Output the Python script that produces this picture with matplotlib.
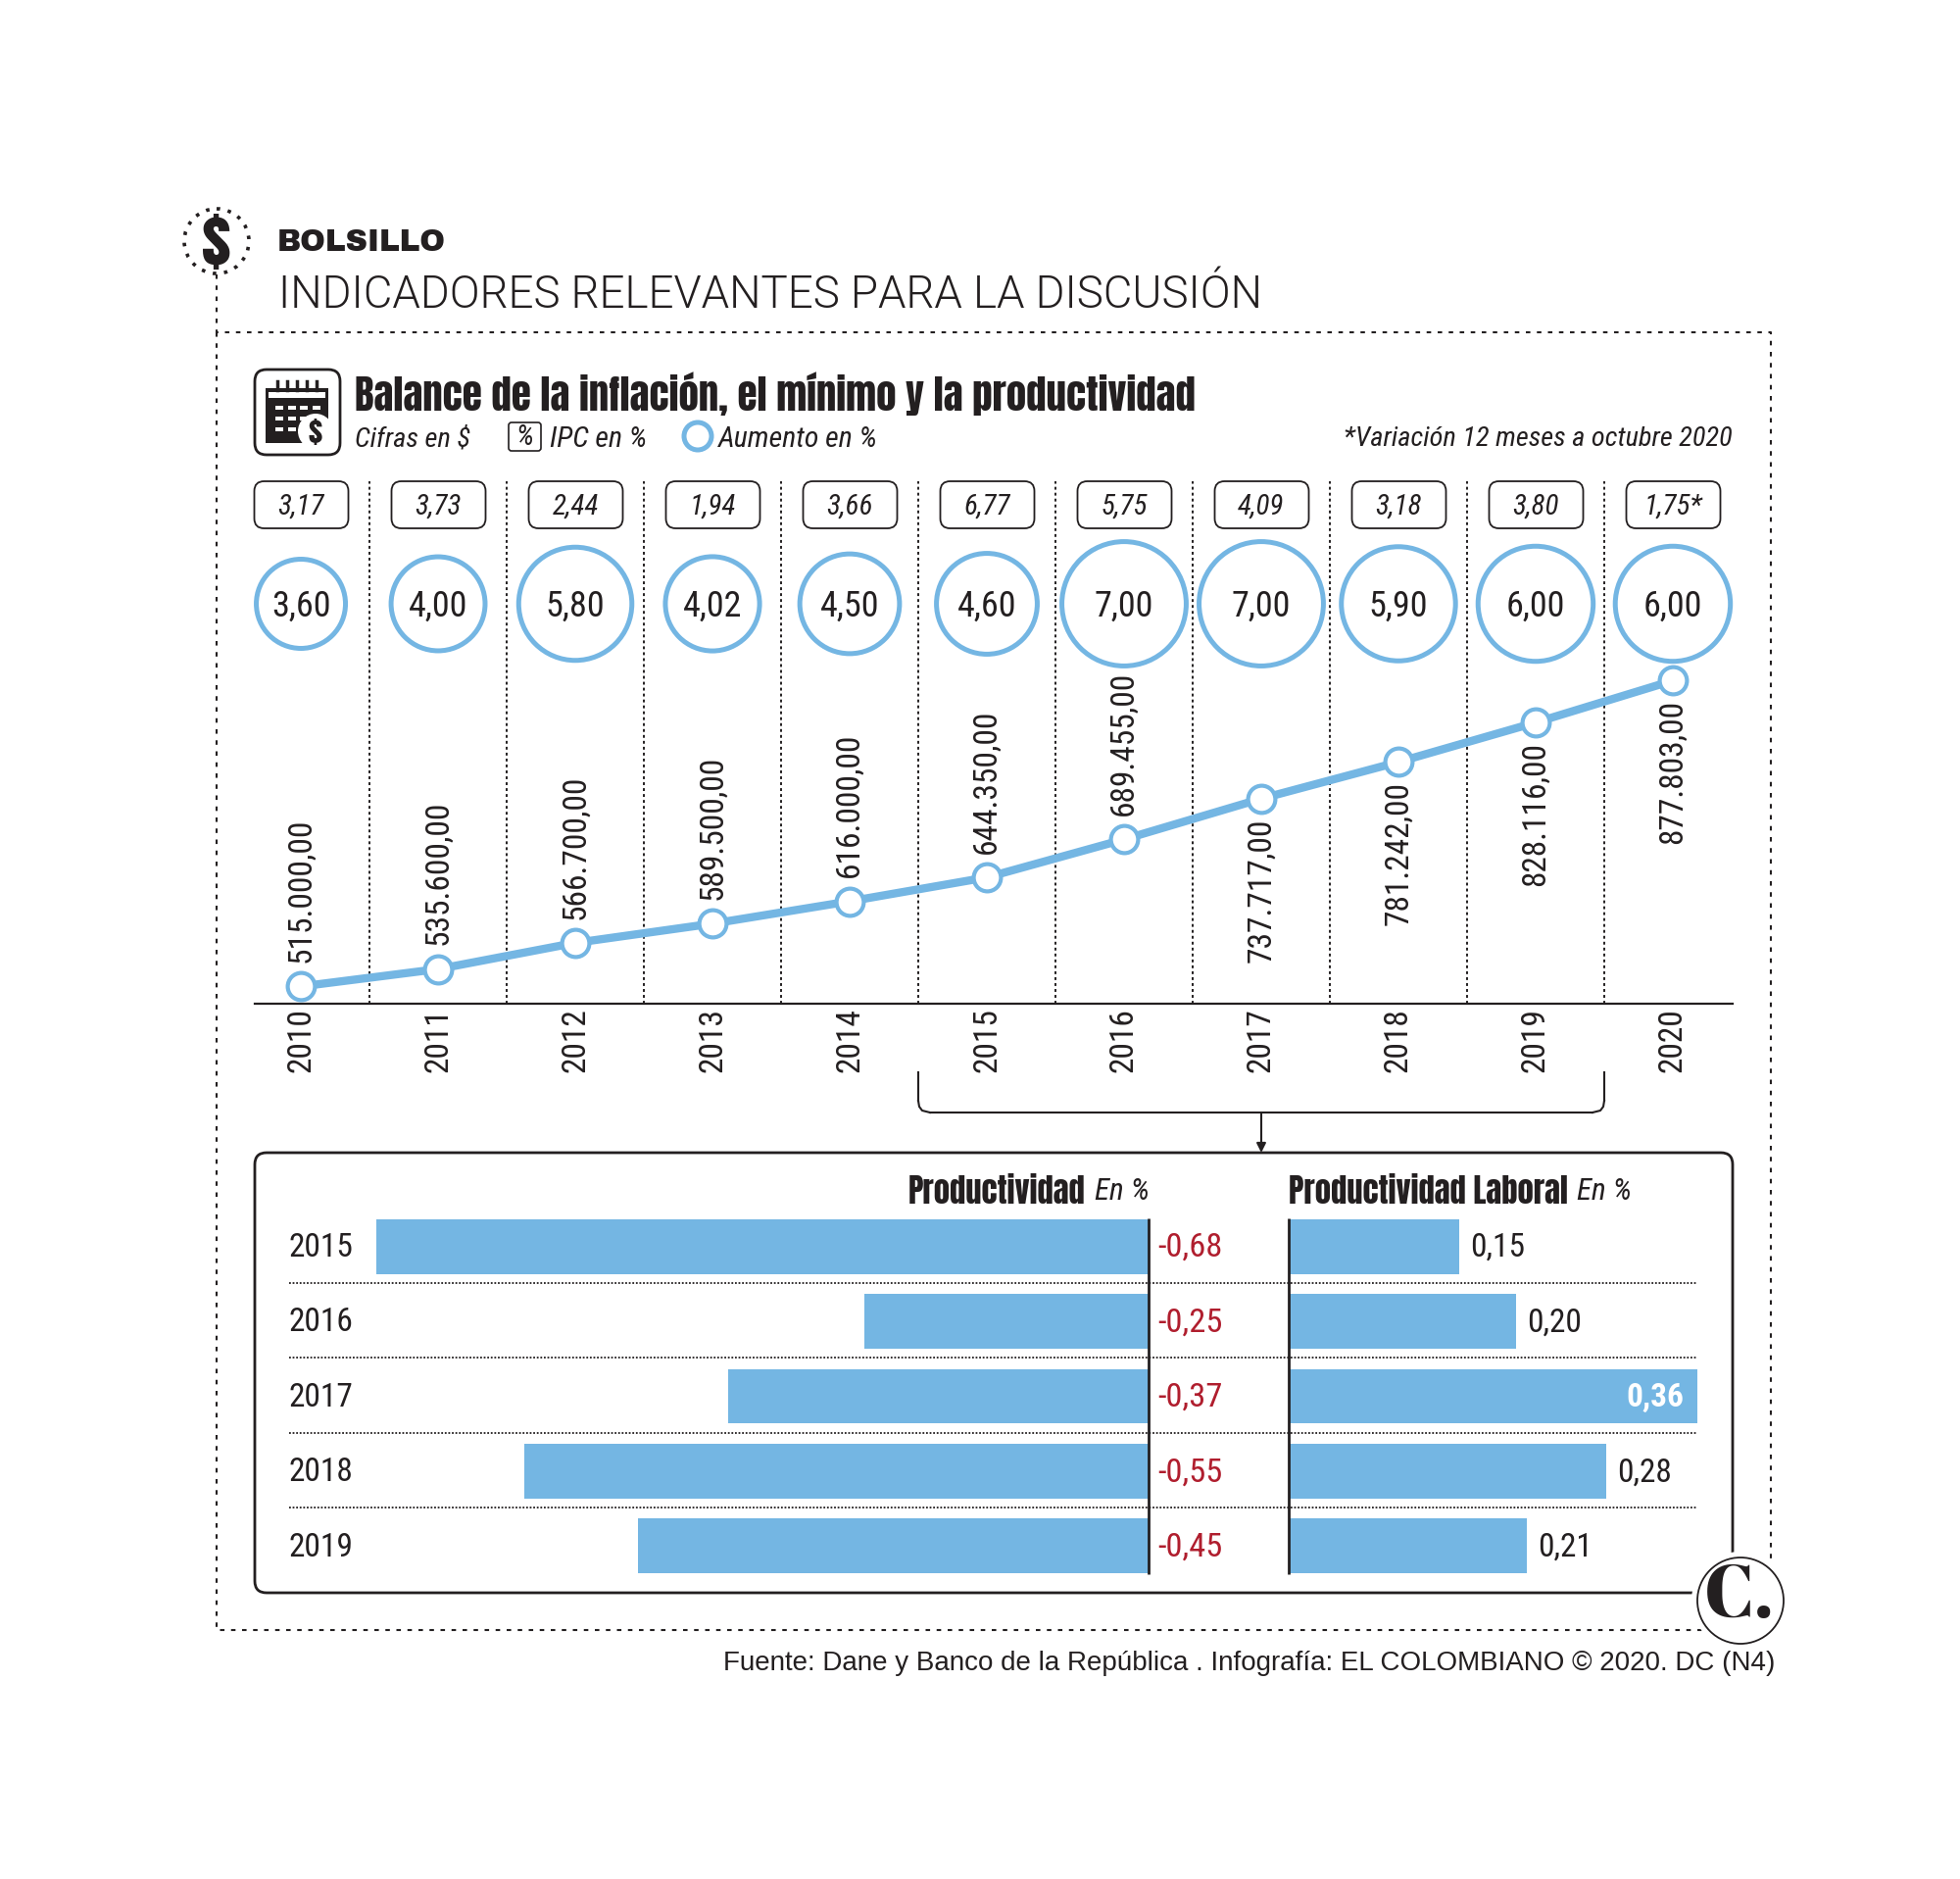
import logging
import matplotlib
matplotlib.use('Agg')
import matplotlib.pyplot as plt
from matplotlib.patches import Circle, FancyBboxPatch, Rectangle
from matplotlib.transforms import blended_transform_factory

logging.getLogger('matplotlib.font_manager').setLevel(logging.ERROR)

# Datos
YEARS = [2010, 2011, 2012, 2013, 2014, 2015, 2016, 2017, 2018, 2019, 2020]
IPC = ['3,17', '3,73', '2,44', '1,94', '3,66', '6,77', '5,75', '4,09', '3,18', '3,80', '1,75*']
AUMENTO = [3.60, 4.00, 5.80, 4.02, 4.50, 4.60, 7.00, 7.00, 5.90, 6.00, 6.00]
SALARIO = [515000, 535600, 566700, 589500, 616000, 644350, 689455, 737717, 781242, 828116, 877803]
LABEL_BELOW = [2017, 2018, 2019, 2020]

PROD_YEARS = [2015, 2016, 2017, 2018, 2019]
PRODUCTIVIDAD = [-0.68, -0.25, -0.37, -0.55, -0.45]
PROD_LABORAL = [0.15, 0.20, 0.36, 0.28, 0.21]

W, H = 2000, 1917
BLUE = '#74B6E3'
INK = '#231F20'
RED = '#B01E2E'
NARROW = ['Roboto Condensed', 'Archivo Narrow', 'IBM Plex Sans Condensed', 'Liberation Sans', 'DejaVu Sans']
HEAVY = ['Anton', 'Fjalla One', 'Roboto Condensed', 'Liberation Sans', 'DejaVu Sans']
WIDE = ['Archivo Black', 'DejaVu Sans']
SANS = ['Liberation Sans', 'DejaVu Sans']
LIGHT = ['Roboto', 'Liberation Sans', 'DejaVu Sans']
SERIF = ['Abril Fatface', 'Playfair Display', 'Liberation Serif', 'DejaVu Serif']


def axes_px(left, top, right, bottom, **kw):
    return fig.add_axes([left / W, 1 - bottom / H, (right - left) / W, (bottom - top) / H], **kw)


def coma(v, dec=2):
    return f'{v:.{dec}f}'.replace('.', ',')


def miles(v):
    return f'{v:,.2f}'.replace(',', 'X').replace('.', ',').replace('X', '.')


fig = plt.figure(figsize=(W / 100, H / 100), dpi=100, facecolor='white')

# capa de fondo en pixeles, para marcos y textos
bg = axes_px(0, 0, W, H)
bg.set_xlim(0, W)
bg.set_ylim(H, 0)
bg.axis('off')

DOT = (0, (2.2, 3.2))
bg.plot([221, 221, 1807, 1807], [280, 339, 339, 1663], color=INK, lw=1.5, ls=DOT)
bg.plot([221, 221, 1740], [339, 1663, 1663], color=INK, lw=1.5, ls=DOT)

# icono de la seccion
bg.add_patch(Circle((221, 246), 33, fc='white', ec=INK, lw=2.6, ls=(0, (1, 2.2))))
bg.text(221, 247, '$', family=HEAVY, fontsize=46, color=INK, ha='center', va='center')

bg.text(283, 247, 'BOLSILLO', family=WIDE, fontsize=22.3, color=INK, va='center')
bg.text(284, 301, 'INDICADORES RELEVANTES PARA LA DISCUSIÓN', family=LIGHT, fontsize=32.9, fontweight=300, color=INK,
        va='center')

# icono calendario
bg.add_patch(FancyBboxPatch((266, 383), 75, 75, boxstyle='round,pad=6,rounding_size=12', fc='white', ec=INK, lw=2))
bg.add_patch(Rectangle((271, 396), 64, 56, fc=INK, ec='none'))
bg.add_patch(Rectangle((274, 400), 58, 6, fc='white', ec='none'))
for cx in (283, 293, 303, 313, 323):
    bg.plot([cx, cx], [389, 398], color=INK, lw=2.5)
for row in range(3):
    for col in range(4):
        bg.add_patch(Rectangle((281 + col * 12.5, 414 + row * 11), 8, 4, fc='white', ec='none'))
bg.add_patch(Circle((322, 440), 18, fc='white', ec='none'))
bg.text(322, 440, '$', family=HEAVY, fontsize=22, color=INK, ha='center', va='center')

bg.text(362, 402, 'Balance de la inflación, el mínimo y la productividad', family=HEAVY, fontsize=29.4, color=INK,
        va='center')

# leyenda
LEG_Y = 448
bg.text(362, LEG_Y, 'Cifras en $', family=NARROW, style='italic', fontsize=20.5, color=INK, va='center')
bg.add_patch(FancyBboxPatch((520, 432), 31, 27, boxstyle='round,pad=1,rounding_size=3', fc='white', ec=INK, lw=1.2))
bg.text(535, 446, '%', family=NARROW, style='italic', fontsize=21, color=INK, ha='center', va='center')
bg.text(561, LEG_Y, 'IPC en %', family=NARROW, style='italic', fontsize=21.5, color=INK, va='center')
bg.add_patch(Circle((712, 445), 14, fc='white', ec=BLUE, lw=3.6))
bg.text(733, LEG_Y, 'Aumento en %', family=NARROW, style='italic', fontsize=21.5, color=INK, va='center')
bg.text(1768, LEG_Y, '*Variación 12 meses a octubre 2020', family=NARROW, style='italic', fontsize=20.4,
        color=INK, ha='right', va='center')

# grafico superior: salario minimo
SEP_TOP = 491
BASE = 1024
ax = axes_px(260, SEP_TOP, 1768, BASE)
ax.patch.set_visible(False)
ax.set_xlim(-0.336, 10.436)
ax.set_ylim(494500, 1114300)
for side in ('top', 'left', 'right'):
    ax.spines[side].set_visible(False)
ax.spines['bottom'].set_linewidth(1.6)
ax.spines['bottom'].set_color(INK)
ax.set_yticks([])
idx = list(range(len(YEARS)))
ax.set_xticks(idx, [str(y) for y in YEARS], rotation=90, family=NARROW, fontsize=24, color=INK)
ax.tick_params(axis='x', length=0, pad=2.8)

ax.vlines([i + 0.5 for i in idx[:-1]], 0, 1, transform=ax.get_xaxis_transform(), color=INK, lw=1.4, ls=(0, (1.5, 1.6)))
ax.plot(idx, SALARIO, color=BLUE, lw=6, marker='o', ms=20, mfc='white', mec=BLUE, mew=3, clip_on=False, zorder=4)

for i, (year, val) in enumerate(zip(YEARS, SALARIO)):
    below = year in LABEL_BELOW
    ax.annotate(miles(val), (i, val), xytext=(0, -14 if below else 17.5), textcoords='offset points', rotation=90,
                ha='center', va='top' if below else 'bottom', family=NARROW, fontsize=24, color=INK, zorder=5)

# filas de arriba: aumento e IPC, con x en datos y en pixeles
row_tr = blended_transform_factory(ax.transData, bg.transData)
ax.scatter(idx, [616] * len(idx), s=[1192 * v for v in AUMENTO], transform=row_tr, fc='white', ec=BLUE, lw=3.6,
           clip_on=False, zorder=3)
for i, (a, p) in enumerate(zip(AUMENTO, IPC)):
    ax.text(i, 619, coma(a), transform=row_tr, family=NARROW, fontsize=26, color=INK, ha='center', va='center', zorder=5)
    ax.text(i, 516.5, p, transform=row_tr, family=NARROW, style='italic', fontsize=21, color=INK, ha='center',
            va='center', zorder=5)
    bg.add_patch(FancyBboxPatch((307.5 + i * 140 - 43, 496), 86, 38, boxstyle='round,pad=5,rounding_size=10', fc='white',
                                ec=INK, lw=1.3))

# llave que une 2015-2019 con el panel inferior
bg.plot([937, 937], [1094, 1123], color=INK, lw=1.5)
bg.plot([949, 1625], [1135, 1135], color=INK, lw=1.5)
bg.plot([1637, 1637], [1094, 1123], color=INK, lw=1.5)
bg.plot([937, 938, 941, 949], [1123, 1129, 1133, 1135], color=INK, lw=1.5)
bg.plot([1637, 1636, 1633, 1625], [1123, 1129, 1133, 1135], color=INK, lw=1.5)
bg.annotate('', xy=(1287, 1176), xytext=(1287, 1135),
            arrowprops=dict(arrowstyle='-|>', color=INK, lw=1.5, mutation_scale=14, shrinkA=0, shrinkB=0))

# panel de productividad
bg.add_patch(FancyBboxPatch((272, 1188), 1484, 425, boxstyle='round,pad=12,rounding_size=12', fc='white', ec=INK, lw=2))
for y in (1309, 1385, 1462, 1538):
    bg.plot([295, 1732], [y, y], color=INK, lw=1.3, ls=(0, (1, 1)))

rows = list(range(len(PROD_YEARS)))
ROW_TOP, ROW_BOTTOM = 1233.5, 1615.5

left = axes_px(384, ROW_TOP, 1172, ROW_BOTTOM)
left.set_xlim(-0.68, 0)
left.set_ylim(4.5, -0.5)
left.axis('off')
left.barh(rows, PRODUCTIVIDAD, height=0.73, color=BLUE)
left.vlines(0, -0.37, 4.37, color=INK, lw=2, clip_on=False)
for r, year, v in zip(rows, PROD_YEARS, PRODUCTIVIDAD):
    left.annotate(coma(v), (0, r), xytext=(7, -1), textcoords='offset points', family=NARROW, fontsize=24.8, color=RED,
                  va='center', annotation_clip=False)
    left.annotate(str(year), (-0.68, r), xytext=(-64.5, -1), textcoords='offset points', family=NARROW, fontsize=24,
                  color=INK, va='center', annotation_clip=False)

right = axes_px(1315, ROW_TOP, 1732, ROW_BOTTOM)
right.set_xlim(0, 0.36)
right.set_ylim(4.5, -0.5)
right.axis('off')
right.barh(rows, PROD_LABORAL, height=0.73, color=BLUE)
right.vlines(0, -0.37, 4.37, color=INK, lw=2, clip_on=False)
for r, v in zip(rows, PROD_LABORAL):
    if v == max(PROD_LABORAL):
        right.annotate(coma(v), (v, r), xytext=(-10, -1), textcoords='offset points', family=NARROW, fontsize=24,
                       fontweight='bold', color='white', ha='right', va='center')
    else:
        right.annotate(coma(v), (v, r), xytext=(8, -1), textcoords='offset points', family=NARROW, fontsize=24,
                       color=INK, va='center', annotation_clip=False)

HEAD_Y = 1216
bg.text(1173, HEAD_Y, 'En %', family=NARROW, style='italic', fontsize=22.5, color=INK, ha='right', va='center')
bg.text(1108, HEAD_Y, 'Productividad', family=HEAVY, fontsize=23.5, color=INK, ha='right', va='center')
bg.text(1315, HEAD_Y, 'Productividad Laboral', family=HEAVY, fontsize=23.5, color=INK, va='center')
bg.text(1609, HEAD_Y, 'En %', family=NARROW, style='italic', fontsize=22.5, color=INK, va='center')

# logo y fuente
bg.add_patch(Circle((1776, 1633), 50, fc='white', ec='none', zorder=6))
bg.add_patch(Circle((1776, 1633), 44, fc='white', ec=INK, lw=1.3, zorder=7))
bg.text(1775, 1631, 'C.', family=SERIF, fontsize=54, color=INK, ha='center', va='center', zorder=8)
bg.text(1811, 1697, 'Fuente: Dane y Banco de la República . Infografía: EL COLOMBIANO © 2020. DC (N4)', family=SANS,
        fontsize=20, color=INK, ha='right', va='center', zorder=8)

fig.savefig('out.png', dpi=100)
